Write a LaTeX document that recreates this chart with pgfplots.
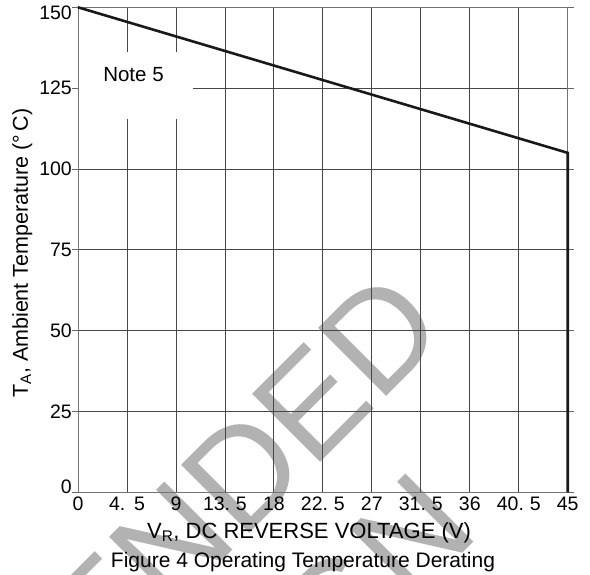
\documentclass[border=0pt]{standalone}
\usepackage{pgfplots}
\pgfplotsset{compat=1.18}
\usepackage{fontspec}
\setmainfont{Liberation Sans}
\begin{document}
\begin{tikzpicture}
% watermark behind everything
\node[rotate=45, anchor=base, inner sep=0pt, text=black!30,
      font=\fontsize{140bp}{140bp}\selectfont] at (-144.5bp,-357bp) {NOT RECOMMENDED};
\node[rotate=45, anchor=base, inner sep=0pt, text=black!30,
      font=\fontsize{140bp}{140bp}\selectfont] at (-33bp,-479bp) {FOR NEW DESIGN};
\begin{axis}[
  at={(0,0)}, anchor=south west,
  scale only axis, width=489.7bp, height=485.2bp,
  xmin=0, xmax=45, ymin=0, ymax=150,
  xtick={0,4.5,9,13.5,18,22.5,27,31.5,36,40.5,45},
  xticklabels={0,4.\hspace{0.45em}5,9,13.\hspace{0.3em}5,18,22.\hspace{0.3em}5,27,31.\hspace{0.3em}5,36,40.\hspace{0.3em}5,45},
  ytick={0,25,50,75,100,125,150},
  yticklabels={\raisebox{6bp}[\height][\depth]{0},25,50,75,100,125,\raisebox{-5bp}[\height][\depth]{150}},
  grid=major,
  grid style={black!72, line width=0.8bp},
  axis line style={black!55, line width=0.9bp},
  tick align=outside,
  x tick style={draw=none},
  y tick style={black!60, line width=0.8bp},
  major tick length=6bp,
  ticklabel style={font=\fontsize{19.5bp}{22bp}\selectfont, inner sep=0pt},
  xticklabel style={yshift=1.5bp},
  /pgf/number format/assume math mode=true,
  clip=false,
]
\fill[white] (axis cs:0.12,115.5) rectangle (axis cs:10.57,136.2);
\node[font=\fontsize{20.5bp}{24bp}\selectfont] at (axis cs:5.1,129.2) {Note 5};
\addplot[black!90, line width=2.6bp, mark=none] coordinates {(0,150) (45,105) (45,0)};
\end{axis}
\node[anchor=base, font=\fontsize{22bp}{26bp}\selectfont] at (231bp,-45.5bp) {V\textsubscript{R}, DC REVERSE VOLTAGE (V)};
\node[anchor=base, font=\fontsize{21bp}{25bp}\selectfont] at (225bp,-74.5bp) {Figure 4 Operating Temperature Derating};
\node[anchor=base, rotate=90, font=\fontsize{21.5bp}{25bp}\selectfont] at (-50bp,239.5bp) {T\textsubscript{A}, Ambient\ Temperature (°\,C)};
\pgfresetboundingbox
\path[use as bounding box] (-78bp,-82.5bp) rectangle (512bp,492.5bp);
\end{tikzpicture}
\end{document}
